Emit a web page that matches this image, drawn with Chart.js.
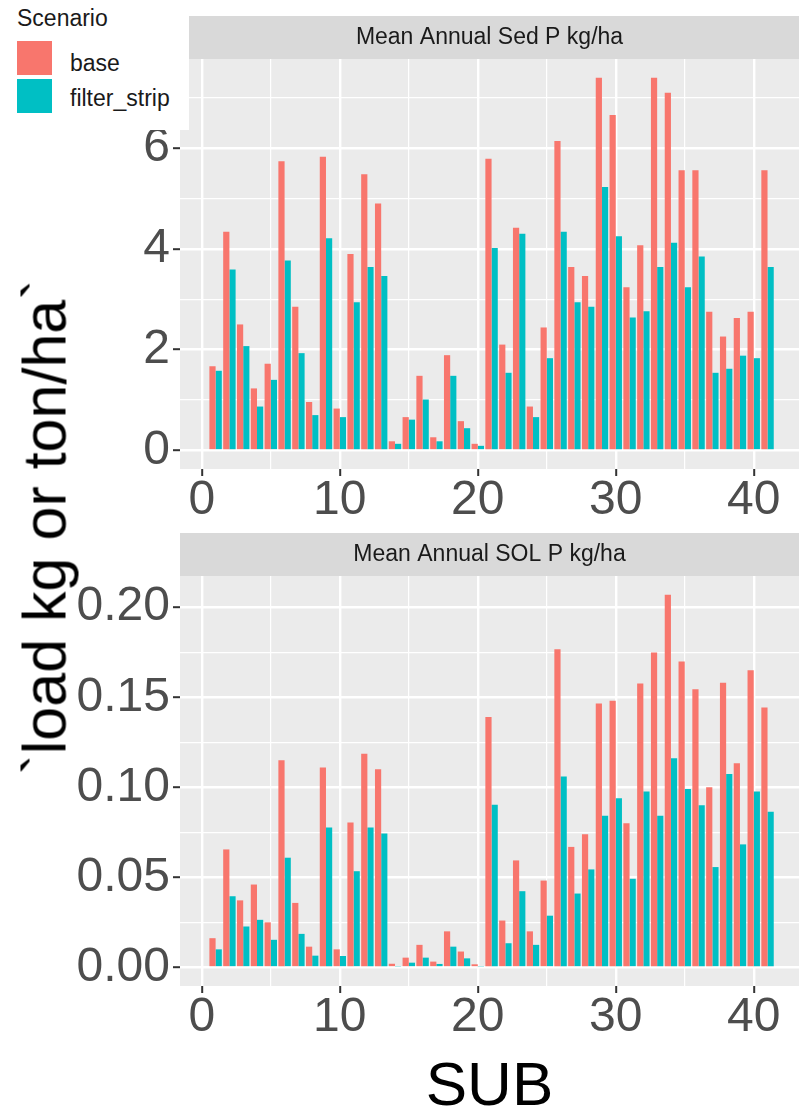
<!DOCTYPE html>
<html>
<head>
<meta charset="utf-8">
<title>Mean Annual P load by subbasin</title>
<script src="https://cdn.jsdelivr.net/npm/chart.js@4.4.1/dist/chart.umd.min.js"></script>
<style>
  body { margin: 0; background: #ffffff; }
  #wrap { position: relative; width: 799px; height: 1115px; overflow: hidden;
          font-family: 'Liberation Sans', Arial, sans-serif; }
  #sedChart { position: absolute; left: 0; top: 0; }
  #solChart { position: absolute; left: 0; top: 530px; }
  #ytitle { position: absolute; left: 45px; top: 527px; line-height: 1;
            transform: translate(-50%, -50%) rotate(-90deg);
            font-size: 61px; white-space: nowrap; color: #000000; }
  #legend { position: absolute; left: 0; top: 0; width: 189px; height: 130px;
            background: #ffffff; color: #1a1a1a; font-size: 23px; line-height: 1; }
  #legend .txt { position: absolute; white-space: nowrap; }
  #legend .key { position: absolute; left: 17px; width: 35px; height: 34px; }
</style>
</head>
<body>
<div id="wrap">
  <canvas id="sedChart" width="799" height="530"></canvas>
  <canvas id="solChart" width="799" height="585"></canvas>
  <div id="ytitle"></div>
  <div id="legend"></div>
</div>
<script>
// Data
// ------------------------------
var subs = [1, 2, 3, 4, 5, 6, 7, 8, 9, 10, 11, 12, 13, 14, 15, 16, 17, 18, 19, 20,
            21, 22, 23, 24, 25, 26, 27, 28, 29, 30, 31, 32, 33, 34, 35, 36, 37, 38, 39, 40, 41];

var scenarios = ["base", "filter_strip"];
var scenarioColors = ["#F8766D", "#00BFC4"];

// Mean Annual Sed P kg/ha
var sedBase = [1.67, 4.34, 2.50, 1.23, 1.72, 5.74, 2.85, 0.96, 5.83, 0.83,
               3.90, 5.48, 4.90, 0.18, 0.66, 1.48, 0.26, 1.89, 0.58, 0.13,
               5.79, 2.10, 4.42, 0.87, 2.44, 6.14, 3.64, 3.46, 7.40, 6.66,
               3.24, 4.07, 7.40, 7.10, 5.56, 5.56, 2.75, 2.26, 2.63, 2.75, 5.56];
var sedFilter = [1.58, 3.59, 2.07, 0.87, 1.40, 3.77, 1.93, 0.70, 4.21, 0.66,
                 2.94, 3.64, 3.46, 0.13, 0.61, 1.01, 0.18, 1.48, 0.44, 0.09,
                 4.02, 1.54, 4.30, 0.66, 1.83, 4.34, 2.94, 2.85, 5.23, 4.25,
                 2.64, 2.76, 3.64, 4.12, 3.24, 3.85, 1.54, 1.62, 1.88, 1.83, 3.64];

// Mean Annual SOL P kg/ha
var solBase = [0.0162, 0.0655, 0.0372, 0.0460, 0.0250, 0.1150, 0.0358, 0.0115, 0.1110, 0.0100,
               0.0804, 0.1186, 0.1100, 0.0020, 0.0054, 0.0125, 0.0032, 0.0200, 0.0088, 0.0017,
               0.1390, 0.0260, 0.0594, 0.0200, 0.0482, 0.1767, 0.0669, 0.0739, 0.1466, 0.1480,
               0.0800, 0.1577, 0.1749, 0.2070, 0.1698, 0.1544, 0.1000, 0.1580, 0.1134, 0.1650, 0.1443];
var solFilter = [0.0100, 0.0395, 0.0227, 0.0264, 0.0153, 0.0609, 0.0186, 0.0065, 0.0777, 0.0063,
                 0.0534, 0.0777, 0.0743, 0.0005, 0.0026, 0.0054, 0.0019, 0.0115, 0.0050, 0.0005,
                 0.0903, 0.0134, 0.0423, 0.0125, 0.0287, 0.1060, 0.0410, 0.0544, 0.0842, 0.0939,
                 0.0492, 0.0976, 0.0842, 0.1162, 0.0990, 0.0900, 0.0557, 0.1074, 0.0683, 0.0976, 0.0864];

// Tick labels
var subTicks = [0, 10, 20, 30, 40];
var subTickLabels = ["0", "10", "20", "30", "40"];
var sedTicks = [0, 2, 4, 6];
var sedTickLabels = ["0", "2", "4", "6"];
var solTicks = [0, 0.05, 0.10, 0.15, 0.20];
var solTickLabels = ["0.00", "0.05", "0.10", "0.15", "0.20"];

var yTitle = "`load kg or ton/ha`";
var xTitle = "SUB";
var legendTitle = "Scenario";

// Styling
// ------------------------------
var FONT = "'Liberation Sans', Arial, sans-serif";
var panelColor = "#EBEBEB";
var stripColor = "#D9D9D9";
var xMin = -1.58, xMax = 43.28;

// major ticks plus ggplot style minor ticks half way between them
function withMinor(major, max) {
    var step = major[1] - major[0];
    var out = [];
    major.forEach(function(v) {
        out.push({ value: v, isMajor: true });
        if (v + step / 2 <= max) out.push({ value: v + step / 2, isMajor: false });
    });
    return out;
}

function tickLabel(major, labels) {
    return function(value, index, ticks) {
        return ticks[index].isMajor ? labels[major.indexOf(value)] : "";
    };
}

var gridOpts = {
    color: "#FFFFFF",
    lineWidth: function(c) { return c.tick && c.tick.isMajor ? 2.4 : 1.2; },
    tickColor: function(c) { return c.tick && c.tick.isMajor ? "#333333" : "rgba(0,0,0,0)"; },
    tickWidth: 2,
    tickLength: 7
};

// grey strip behind the facet title and grey panel behind the bars
var panelPlugin = {
    id: "panel",
    afterLayout: function(chart) {
        chart.titleBlock.left = chart.chartArea.left;
        chart.titleBlock.right = chart.chartArea.right;
    },
    beforeDraw: function(chart) {
        var ctx = chart.ctx, area = chart.chartArea, t = chart.titleBlock;
        ctx.save();
        ctx.fillStyle = stripColor;
        ctx.fillRect(area.left, t.top, chart.width - area.left, t.bottom - t.top);
        ctx.fillStyle = panelColor;
        ctx.fillRect(area.left, area.top, area.right - area.left, area.bottom - area.top);
        ctx.restore();
    }
};

function makeChart(canvasId, title, base, filter, yTicks, yLabels, padTop, xHeight, showXTitle) {
    var maxVal = Math.max.apply(null, base.concat(filter));
    var yMin = -0.05 * maxVal, yMax = 1.05 * maxVal;

    // Chart Data
    var chartData = {
        labels: subs,
        datasets: [base, filter].map(function(values, i) {
            return {
                label: scenarios[i],
                data: values,
                backgroundColor: scenarioColors[i],
                borderWidth: 0,
                categoryPercentage: 0.9,
                barPercentage: 1.0
            };
        })
    };

    // Chart Options
    var chartOptions = {
        responsive: false,
        animation: false,
        layout: { padding: { top: padTop, left: 0, right: 0, bottom: 0 } },
        plugins: {
            legend: { display: false },
            tooltip: { enabled: false },
            title: {
                display: true,
                text: title,
                color: "#1A1A1A",
                font: { family: FONT, size: 23, weight: "normal", lineHeight: "43px" },
                padding: 0
            }
        },
        scales: {
            x: {
                type: "linear",
                min: xMin,
                max: xMax,
                offset: false,
                grid: Object.assign({ offset: false }, gridOpts),
                border: { display: false },
                afterBuildTicks: function(scale) { scale.ticks = withMinor(subTicks, xMax); },
                afterFit: function(scale) { scale.height = xHeight; },
                ticks: {
                    autoSkip: false,
                    maxRotation: 0,
                    padding: 1,
                    color: "#4D4D4D",
                    font: { family: FONT, size: 48, lineHeight: 1 },
                    callback: tickLabel(subTicks, subTickLabels)
                },
                title: {
                    display: showXTitle,
                    text: xTitle,
                    color: "#000000",
                    font: { family: FONT, size: 62, lineHeight: "54px" },
                    padding: 0
                }
            },
            y: {
                min: yMin,
                max: yMax,
                grid: gridOpts,
                border: { display: false },
                afterBuildTicks: function(scale) { scale.ticks = withMinor(yTicks, yMax); },
                afterFit: function(scale) { scale.width = 180; },
                ticks: {
                    autoSkip: false,
                    padding: 3,
                    color: "#4D4D4D",
                    font: { family: FONT, size: 48, lineHeight: 1 },
                    callback: tickLabel(yTicks, yLabels)
                }
            }
        }
    };

    var config = {
        type: "bar",
        data: chartData,
        options: chartOptions,
        plugins: [panelPlugin]
    };

    // Create the chart
    return new Chart(document.getElementById(canvasId), config);
}

var sedChart = makeChart("sedChart", "Mean Annual Sed P kg/ha", sedBase, sedFilter,
                         sedTicks, sedTickLabels, 16, 61, false);
var solChart = makeChart("solChart", "Mean Annual SOL P kg/ha", solBase, solFilter,
                         solTicks, solTickLabels, 3, 129, true);

// y title shared by both panels, and the Scenario legend
document.getElementById("ytitle").textContent = yTitle;

var legend = document.getElementById("legend");
var lt = document.createElement("div");
lt.className = "txt";
lt.style.left = "17px";
lt.style.top = "7px";
lt.textContent = legendTitle;
legend.appendChild(lt);
scenarios.forEach(function(name, i) {
    var key = document.createElement("div");
    key.className = "key";
    key.style.top = (41 + i * 38) + "px";
    key.style.background = scenarioColors[i];
    legend.appendChild(key);
    var txt = document.createElement("div");
    txt.className = "txt";
    txt.style.left = "70px";
    txt.style.top = (52 + i * 35) + "px";
    txt.textContent = name;
    legend.appendChild(txt);
});
</script>
</body>
</html>
